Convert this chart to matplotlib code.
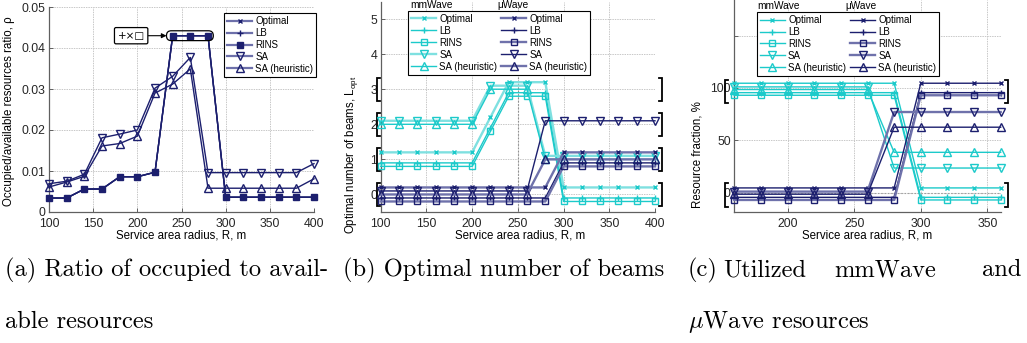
import numpy as np
import matplotlib
matplotlib.use("Agg")
import matplotlib.pyplot as plt
import matplotlib.transforms as mtransforms
from matplotlib.patches import FancyBboxPatch

plt.rcParams['font.family'] = ['Liberation Sans', 'DejaVu Sans']

# ---------------- data ----------------
# (a) occupied/available resources ratio
R_a = [100, 120, 140, 160, 180, 200, 220, 240, 260, 280, 300, 320, 340, 360, 380, 400]
rho_opt = [0.0034, 0.0034, 0.0056, 0.0056, 0.0086, 0.0086, 0.0097, 0.0430, 0.0430, 0.0430,
           0.0036, 0.0036, 0.0036, 0.0036, 0.0036, 0.0036]
rho_lb = rho_opt
rho_rins = rho_opt
rho_sa = [0.0069, 0.0075, 0.0092, 0.0181, 0.0190, 0.0200, 0.0302, 0.0331, 0.0377, 0.0096,
          0.0096, 0.0096, 0.0096, 0.0096, 0.0096, 0.0118]
rho_sah = [0.0061, 0.0073, 0.0087, 0.0161, 0.0167, 0.0185, 0.0290, 0.0312, 0.0349, 0.0058,
           0.0058, 0.0058, 0.0058, 0.0058, 0.0058, 0.0081]

# (b) optimal number of beams
R_b = R_a
L_mm_opt = [1, 1, 1, 1, 1, 1, 2, 3, 3, 3, 0, 0, 0, 0, 0, 0]
L_mm_lb = L_mm_opt
L_mm_rins = L_mm_opt
L_mm_sa = [2, 2, 2, 2, 2, 2, 3, 3, 3, 1, 1, 1, 1, 1, 1, 1]
L_mm_sah = L_mm_sa
L_mu_opt = [0, 0, 0, 0, 0, 0, 0, 0, 0, 0, 1, 1, 1, 1, 1, 1]
L_mu_lb = L_mu_opt
L_mu_rins = L_mu_opt
L_mu_sa = [0, 0, 0, 0, 0, 0, 0, 0, 0, 2, 2, 2, 2, 2, 2, 2]
L_mu_sah = [0, 0, 0, 0, 0, 0, 0, 0, 0, 1, 1, 1, 1, 1, 1, 1]

# (c) utilized resources, %
R_c = [160, 180, 200, 220, 240, 260, 280, 300, 320, 340, 360]
f_mm_opt = [100, 100, 100, 100, 100, 100, 100, 0, 0, 0, 0]
f_mm_lb = f_mm_opt
f_mm_rins = f_mm_opt
f_mm_sa = [100, 100, 100, 100, 100, 100, 22.5, 22.5, 22.5, 22.5, 22.5]
f_mm_sah = [100, 100, 100, 100, 100, 100, 40, 40, 40, 40, 40]
f_mu_opt = [0, 0, 0, 0, 0, 0, 0, 100, 100, 100, 100]
f_mu_lb = f_mu_opt
f_mu_rins = f_mu_opt
f_mu_sa = [0, 0, 0, 0, 0, 0, 76, 76, 76, 76, 76]
f_mu_sah = [0, 0, 0, 0, 0, 0, 64, 64, 64, 64, 64]

names = ['Optimal', 'LB', 'RINS', 'SA', 'SA (heuristic)']

# vertical shifts so that coinciding curves stay visible
shift_b = {'Optimal': 0.2, 'LB': -0.1, 'RINS': -0.2, 'SA': 0.1, 'SA (heuristic)': 0.0}
shift_c = {'Optimal': 4.5, 'LB': -4.5, 'RINS': -7.0, 'SA': 1.0, 'SA (heuristic)': -1.5}

# ---------------- styles ----------------
navy = '#1c1f6e'
navy_l = '#6f72ab'
cyan = '#1ccaca'
cyan_l = '#7fe0e0'
mk = {'Optimal': ('x', 3.5), 'LB': ('+', 5), 'RINS': ('s', 4),
      'SA': ('v', 5.5), 'SA (heuristic)': ('^', 5.5)}

W, H = 1027, 343
fig = plt.figure(figsize=(W / 100, H / 100), dpi=100)


def box(l, t, r, b):
    return [l / W, 1 - b / H, (r - l) / W, (b - t) / H]


def style_axes(ax):
    for s in ['top', 'right']:
        ax.spines[s].set_visible(False)
    for s in ['left', 'bottom']:
        ax.spines[s].set_color('#606060')
        ax.spines[s].set_linewidth(0.9)
    ax.tick_params(direction='in', length=3, width=0.7, color='#606060',
                   labelsize=8.8, labelcolor='#262626', pad=2.5)
    ax.tick_params(axis='x', pad=4.6)
    ax.grid(True, color='#c8c8c8', linestyle=(0, (1.5, 1)), linewidth=0.7)
    ax.set_axisbelow(True)


def draw(ax, x, y, name, base, light, thick, filled=False):
    m, ms = mk[name]
    ax.plot(x, y, color=light if thick else base, lw=1.7 if thick else 1.0,
            marker=m, ms=ms, mec=base, mew=1.0,
            mfc=base if filled else 'none', label=name, clip_on=False, zorder=3)


def bracket(ax, xv, xs, y0, y1):
    tr = mtransforms.blended_transform_factory(ax.transAxes, ax.transData)
    ax.plot([xs, xv, xv, xs], [y0, y0, y1, y1], color='black', lw=1.3,
            transform=tr, clip_on=False, solid_joinstyle='miter')


# ---------------- (a) ----------------
ax = fig.add_axes(box(49, 7, 314, 212))
style_axes(ax)
draw(ax, R_a, rho_opt, 'Optimal', navy, '#4a4e96', False)
draw(ax, R_a, rho_lb, 'LB', navy, navy, False)
draw(ax, R_a, rho_rins, 'RINS', navy, '#4a4e96', False, filled=True)
draw(ax, R_a, rho_sa, 'SA', navy, '#4a4e96', False)
draw(ax, R_a, rho_sah, 'SA (heuristic)', navy, '#4a4e96', False)
ax.set_xlim(100, 400)
ax.set_ylim(0, 0.05)
ax.set_xticks([100, 150, 200, 250, 300, 350, 400])
ax.set_yticks([0, 0.01, 0.02, 0.03, 0.04, 0.05])
ax.set_yticklabels(['0', '0.01', '0.02', '0.03', '0.04', '0.05'])
ax.set_xlabel('Service area radius, R, m', fontsize=8.3)
ax.set_ylabel('Occupied/available resources ratio, ρ', fontsize=8.3)
ax.xaxis.set_label_coords(0.5, -0.085)
ax.yaxis.set_label_coords(-0.128, 0.49)
leg = ax.legend(loc='upper right', bbox_to_anchor=(1.008, 0.97), borderaxespad=0,
                fontsize=7, handlelength=2.6, handletextpad=0.3, labelspacing=0.2,
                borderpad=0.3, fancybox=False, framealpha=1, edgecolor='black')
leg.get_frame().set_linewidth(0.8)
for h in leg.get_lines():
    h.set_color('#6d70aa')
    h.set_linewidth(1.6)

# highlight the coinciding Optimal/LB/RINS peak
peak = [r for r, v in zip(R_a, rho_rins) if v == max(rho_rins)]
asp = (0.05 / 205) / (300 / 265)
ax.add_patch(FancyBboxPatch((peak[0] - 7, max(rho_rins) - 0.0012), peak[-1] - peak[0] + 13, 0.0024,
                            boxstyle='round,pad=0,rounding_size=5.4', mutation_aspect=asp,
                            fc='none', ec='black', lw=0.9, clip_on=False, zorder=4))
ax.annotate('+×□', xy=(peak[0] - 7, max(rho_rins)), xytext=(193, max(rho_rins)),
            ha='center', va='center', fontsize=7.5,
            family=['DejaVu Sans'],
            bbox=dict(boxstyle='round,pad=0.3,rounding_size=0.15', fc='white', ec='black', lw=0.9),
            arrowprops=dict(arrowstyle='-|>', color='black', lw=0.8, mutation_scale=7,
                            shrinkA=0, shrinkB=0))

# ---------------- (b) ----------------
ax = fig.add_axes(box(380.7, 1.5, 655, 212))
style_axes(ax)
ax.axvline(250, color='#909090', lw=0.8, linestyle=(0, (1.5, 1.5)), zorder=1)
thick_mm_b = {'Optimal': True, 'LB': False, 'RINS': False, 'SA': True, 'SA (heuristic)': False}
thick_mu_b = {'Optimal': True, 'LB': False, 'RINS': True, 'SA': False, 'SA (heuristic)': True}
mm_b = [L_mm_opt, L_mm_lb, L_mm_rins, L_mm_sa, L_mm_sah]
mu_b = [L_mu_opt, L_mu_lb, L_mu_rins, L_mu_sa, L_mu_sah]
for n, v in zip(names, mm_b):
    draw(ax, R_b, np.array(v) + shift_b[n], n, cyan, cyan_l, thick_mm_b[n])
for n, v in zip(names, mu_b):
    draw(ax, R_b, np.array(v) + shift_b[n], n, navy, navy_l, thick_mu_b[n])
ax.set_xlim(100, 400)
ax.set_ylim(-0.5, 5.5)
ax.set_xticks([100, 150, 200, 250, 300, 350, 400])
ax.set_yticks([0, 1, 2, 3, 4, 5])
ax.set_xlabel('Service area radius, R, m', fontsize=8.3)
ax.set_ylabel(r'Optimal number of beams, $\mathregular{L_{opt}}$', fontsize=8.3)
ax.xaxis.set_label_coords(0.51, -0.083)
ax.yaxis.set_label_coords(-0.075, 0.27)
for lv in [0, 1, 2, 3]:
    bracket(ax, -0.0135, -0.003, lv - 0.33, lv + 0.33)
    bracket(ax, 1.0255, 1.015, lv - 0.33, lv + 0.33)
leg = ax.legend(ncol=2, loc='upper left', bbox_to_anchor=(0.0995, 0.955), borderaxespad=0,
                fontsize=7, handlelength=2.6, handletextpad=0.3, labelspacing=0.2,
                columnspacing=0.4, borderpad=0.3, fancybox=False, framealpha=1,
                edgecolor='black')
leg.get_frame().set_linewidth(0.8)
fig.text(410 / W, 1 - 5 / H, 'mmWave', fontsize=7.3, ha='left', va='center')
fig.text(497 / W, 1 - 5 / H, 'μWave', fontsize=7.3, ha='left', va='center')

# ---------------- (c) ----------------
ax = fig.add_axes(box(734.3, 0, 1000.7, 212))
style_axes(ax)
ax.axhline(0, color='#a0a0a0', lw=0.8, linestyle=(0, (1.5, 1.5)), zorder=1)
thick_mu_c = {'Optimal': False, 'LB': False, 'RINS': True, 'SA': True, 'SA (heuristic)': False}
mm_c = [f_mm_opt, f_mm_lb, f_mm_rins, f_mm_sa, f_mm_sah]
mu_c = [f_mu_opt, f_mu_lb, f_mu_rins, f_mu_sa, f_mu_sah]
for n, v in zip(names, mm_c):
    draw(ax, R_c, np.array(v) + shift_c[n], n, cyan, cyan, False)
for n, v in zip(names, mu_c):
    draw(ax, R_c, np.array(v) + shift_c[n], n, navy, navy_l, thick_mu_c[n])
ax.set_xlim(160, 360)
ax.set_ylim(-18.5, 184)
ax.set_xticks([200, 250, 300, 350])
ax.set_yticks([0, 50, 100, 150])
ax.set_yticklabels(['0', '50', '100', ''])
ax.set_xlabel('Service area radius, R, m', fontsize=8.3)
ax.set_ylabel('Resource fraction, %', fontsize=8.3)
ax.xaxis.set_label_coords(0.5, -0.083)
ax.yaxis.set_label_coords(-0.115, 0.27)
for lo, hi in [(85.5, 108), (-13.4, 9.6)]:
    bracket(ax, -0.035, -0.022, lo, hi)
    bracket(ax, 1.028, 1.015, lo, hi)
leg = ax.legend(ncol=2, loc='upper left', bbox_to_anchor=(0.085, 0.943), borderaxespad=0,
                fontsize=7, handlelength=2.6, handletextpad=0.3, labelspacing=0.2,
                columnspacing=0.4, borderpad=0.3, fancybox=False, framealpha=1,
                edgecolor='black')
leg.get_frame().set_linewidth(0.8)
fig.text(757 / W, 1 - 6 / H, 'mmWave', fontsize=7.3, ha='left', va='center')
fig.text(845 / W, 1 - 6 / H, 'μWave', fontsize=7.3, ha='left', va='center')

# ---------------- sub-captions ----------------
cap = dict(fontsize=17.6, family='cmr10', math_fontfamily='cm', va='center', ha='left')
fig.text(5 / W, 1 - 270 / H, '(a) Ratio of occupied to avail-', **cap)
fig.text(5 / W, 1 - 322 / H, 'able resources', **cap)
fig.text(343 / W, 1 - 270 / H, '(b) Optimal number of beams', **cap)
fig.text(688 / W, 1 - 270 / H, '(c)', **cap)
fig.text(723 / W, 1 - 270 / H, 'Utilized', **cap)
fig.text(885 / W, 1 - 270 / H, 'mmWave', **dict(cap, ha='center'))
fig.text(1021 / W, 1 - 270 / H, 'and', **dict(cap, ha='right'))
fig.text(688 / W, 1 - 322 / H, r'$\mu$Wave resources', **cap)

fig.savefig('out.png', dpi=100)
